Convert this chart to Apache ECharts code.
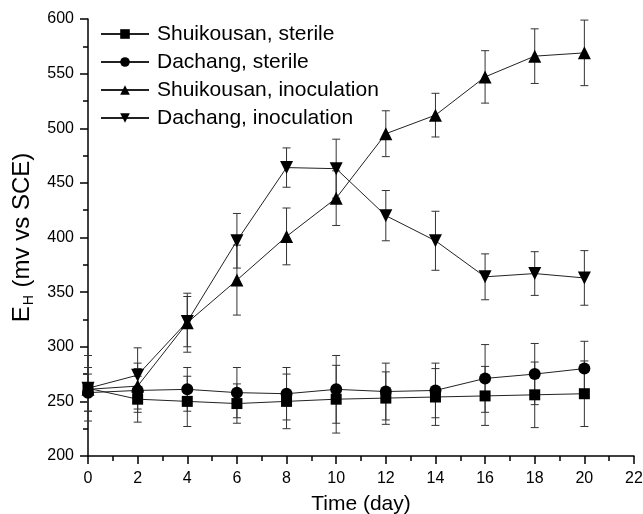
<!DOCTYPE html>
<html>
<head>
<meta charset="UTF-8">
<title></title>
<script src="https://cdn.jsdelivr.net/npm/echarts@6/dist/echarts.min.js"></script>
</head>
<body style="margin:0">
<div id="main" style="width:643px;height:514px;"></div>
<script type="text/javascript">
// days of measurement
var days = [0, 2, 4, 6, 8, 10, 12, 14, 16, 18, 20];
// Eh values (mv vs SCE) and their error bars
var shuiSterile = [262, 252, 250, 248, 250, 252, 253, 254, 255, 256, 257];
var shuiSterileErr = [30, 21, 23, 18, 25, 31, 24, 26, 27, 30, 30];
var dachSterile = [258, 260, 261, 258, 257, 261, 259, 260, 271, 275, 280];
var dachSterileErr = [17, 20, 20, 23, 24, 31, 26, 25, 31, 28, 25];
var shuiInoc = [261, 264, 322, 361, 401, 436, 495, 512, 547, 566, 569];
var shuiInocErr = [20, 21, 27, 32, 26, 25, 21, 20, 24, 25, 30];
var dachInoc = [262, 274, 323, 397, 464, 463, 420, 397, 364, 367, 363];
var dachInocErr = [5, 25, 23, 25, 18, 27, 23, 27, 21, 20, 25];
var names = ['Shuikousan, sterile', 'Dachang, sterile', 'Shuikousan, inoculation', 'Dachang, inoculation'];

var font = '"Liberation Sans", Arial, sans-serif';

function pts(vals) {
    return days.map(function (d, i) { return [d, vals[i]]; });
}
function errs(vals, e) {
    return days.map(function (d, i) { return [d, vals[i] - e[i], vals[i] + e[i]]; });
}
// draws one error bar with caps
function errorBar(params, api) {
    var lo = api.coord([api.value(0), api.value(1)]);
    var hi = api.coord([api.value(0), api.value(2)]);
    var w = 4;
    var st = { stroke: '#333', lineWidth: 1 };
    return {
        type: 'group',
        children: [
            { type: 'line', shape: { x1: lo[0], y1: lo[1], x2: hi[0], y2: hi[1] }, style: st },
            { type: 'line', shape: { x1: lo[0] - w, y1: lo[1], x2: lo[0] + w, y2: lo[1] }, style: st },
            { type: 'line', shape: { x1: hi[0] - w, y1: hi[1], x2: hi[0] + w, y2: hi[1] }, style: st }
        ]
    };
}
function lineSeries(name, vals, symbol, size, rot) {
    return {
        name: name,
        type: 'line',
        data: pts(vals),
        symbol: symbol,
        symbolSize: size,
        symbolRotate: rot || 0,
        showAllSymbol: true,
        z: 3,
        itemStyle: { color: '#000' },
        lineStyle: { color: '#222', width: 1 },
        animation: false
    };
}
function errSeries(vals, e) {
    return {
        type: 'custom',
        data: errs(vals, e),
        renderItem: errorBar,
        encode: { x: 0, y: [1, 2] },
        z: 2,
        silent: true,
        animation: false
    };
}

var myChart = echarts.init(document.getElementById('main'));
var option = {
    backgroundColor: '#fff',
    textStyle: { fontFamily: font },
    grid: { left: 88, right: 9, top: 19, bottom: 58, outerBoundsMode: 'none' },
    legend: {
        orient: 'vertical',
        left: 100,
        top: 23,
        padding: 0,
        itemWidth: 48,
        itemHeight: 12,
        itemGap: 6,
        data: names,
        textStyle: { fontSize: 21, color: '#000', fontFamily: font, lineHeight: 22, padding: [0, 0, 0, 3] }
    },
    xAxis: {
        type: 'value',
        min: 0,
        max: 22,
        interval: 2,
        name: 'Time (day)',
        nameLocation: 'middle',
        nameGap: 38,
        nameTextStyle: { fontSize: 21, color: '#000', fontFamily: font },
        axisLine: { lineStyle: { color: '#000', width: 1.5 } },
        axisTick: { length: 8, lineStyle: { color: '#000', width: 1.5 } },
        minorTick: { show: true, splitNumber: 2, length: 5, lineStyle: { color: '#000', width: 1.5 } },
        axisLabel: { fontSize: 16, color: '#000', margin: 15, fontFamily: font },
        splitLine: { show: false }
    },
    yAxis: {
        type: 'value',
        min: 200,
        max: 600,
        interval: 50,
        name: '{e|E}{s|H}{e| (mv vs SCE)}',
        nameLocation: 'middle',
        nameGap: 47,
        nameTextStyle: {
            color: '#000',
            fontFamily: font,
            rich: {
                e: { fontSize: 24, color: '#000', fontFamily: font },
                s: { fontSize: 14, color: '#000', fontFamily: font, padding: [14, 1, 0, 1] }
            }
        },
        axisLine: { show: true, lineStyle: { color: '#000', width: 1.5 } },
        axisTick: { show: true, length: 8, lineStyle: { color: '#000', width: 1.5 } },
        minorTick: { show: true, splitNumber: 2, length: 5, lineStyle: { color: '#000', width: 1.5 } },
        axisLabel: { fontSize: 16, color: '#000', margin: 14, fontFamily: font },
        splitLine: { show: false }
    },
    series: [
        errSeries(shuiSterile, shuiSterileErr),
        errSeries(dachSterile, dachSterileErr),
        errSeries(shuiInoc, shuiInocErr),
        errSeries(dachInoc, dachInocErr),
        lineSeries(names[0], shuiSterile, 'rect', 11),
        lineSeries(names[1], dachSterile, 'circle', 12),
        lineSeries(names[2], shuiInoc, 'triangle', 13),
        lineSeries(names[3], dachInoc, 'triangle', 13, 180)
    ]
};
myChart.setOption(option);
</script>
</body>
</html>
